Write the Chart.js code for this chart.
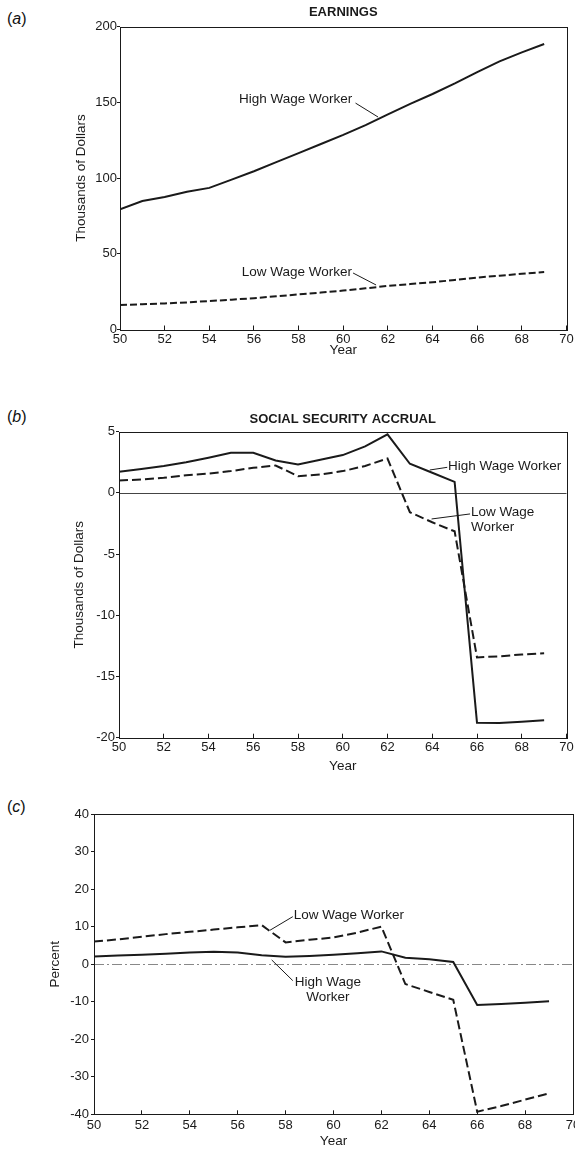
<!DOCTYPE html>
<html>
<head>
<meta charset="utf-8">
<script src="https://cdn.jsdelivr.net/npm/chart.js@4.4.1/dist/chart.umd.min.js"></script>
<style>
  html, body { margin: 0; padding: 0; background: #fff; overflow: hidden; }
  body { width: 575px; height: 1151px; position: relative; font-family: "Liberation Sans", Arial, sans-serif; }
  .panel { position: absolute; left: 0; width: 575px; }
  .tag { position: absolute; left: 7px; font-size: 16px; line-height: 16px; color: #111; }
</style>
</head>
<body>
<div class="tag" style="top:11px">(<i>a</i>)</div>
<div class="tag" style="top:409px">(<i>b</i>)</div>
<div class="tag" style="top:799px">(<i>c</i>)</div>
<div class="panel" style="top:0;height:362px"><canvas id="earnings"></canvas></div>
<div class="panel" style="top:395px;height:380px"><canvas id="accrual"></canvas></div>
<div class="panel" style="top:790px;height:361px"><canvas id="percent"></canvas></div>
<script>
// ages 50..69, one value per year
var years = [50, 51, 52, 53, 54, 55, 56, 57, 58, 59, 60, 61, 62, 63, 64, 65, 66, 67, 68, 69];

// (a) earnings, thousands of dollars
var earnHigh = [79.3, 84.8, 87.5, 91, 93.5, 99, 104.5, 110.5, 116.5, 122.5, 128.5, 135, 142, 149, 155.5, 162.5, 170, 177, 183, 188.5];
var earnLow = [16.2, 16.7, 17.2, 17.9, 18.8, 19.7, 20.7, 21.9, 23.2, 24.4, 25.7, 27.2, 28.8, 30, 31.2, 32.7, 34.3, 35.5, 36.8, 37.9];

// (b) social security accrual, thousands of dollars
var accHigh = [1.72, 1.95, 2.19, 2.5, 2.87, 3.28, 3.28, 2.65, 2.32, 2.7, 3.09, 3.8, 4.78, 2.38, 1.65, 0.9, -18.77, -18.8, -18.7, -18.58];
var accLow = [1.01, 1.1, 1.23, 1.45, 1.58, 1.78, 2.05, 2.24, 1.37, 1.5, 1.78, 2.2, 2.81, -1.58, -2.4, -3.14, -13.44, -13.35, -13.2, -13.11];

// (c) accrual as percent of earnings
var pctHigh = [2.04, 2.3, 2.5, 2.8, 3.1, 3.3, 3.1, 2.4, 2.0, 2.2, 2.5, 2.9, 3.4, 1.7, 1.3, 0.6, -10.9, -10.6, -10.3, -9.9];
var pctLow = [6.0, 6.6, 7.3, 8.0, 8.6, 9.2, 9.8, 10.4, 5.8, 6.5, 7.1, 8.4, 10.0, -5.3, -7.4, -9.5, -39.3, -37.8, -36.1, -34.4];

var INK = "#1a1a1a";
var FONT = "'Liberation Sans', Arial, sans-serif";

function pairs(xs, ys) {
  return xs.map(function (x, i) { return { x: x, y: ys[i] }; });
}

// zero line, box frame and the hand-placed curve labels
var overlay = {
  id: "overlay",
  beforeDatasetsDraw: function (chart, args, opts) {
    if (!opts.zero) return;
    var ctx = chart.ctx, a = chart.chartArea;
    var y0 = Math.round(chart.scales.y.getPixelForValue(0)) + 0.5;
    ctx.save();
    ctx.strokeStyle = opts.zero.color;
    ctx.lineWidth = 1;
    ctx.setLineDash(opts.zero.dash || []);
    ctx.beginPath();
    ctx.moveTo(a.left, y0);
    ctx.lineTo(a.right, y0);
    ctx.stroke();
    ctx.restore();
  },
  afterDatasetsDraw: function (chart, args, opts) {
    var ctx = chart.ctx, a = chart.chartArea;
    var xs = chart.scales.x, ys = chart.scales.y;
    ctx.save();
    ctx.strokeStyle = INK;
    ctx.lineWidth = 1;
    ctx.strokeRect(Math.round(a.left) + 0.5, Math.round(a.top) + 0.5,
      Math.round(a.right - a.left), Math.round(a.bottom - a.top));

    ctx.fillStyle = INK;
    ctx.font = "13.5px " + FONT;
    ctx.textBaseline = "middle";
    (opts.notes || []).forEach(function (n) {
      var px = xs.getPixelForValue(n.x), py = ys.getPixelForValue(n.y);
      ctx.textAlign = n.align || "left";
      n.lines.forEach(function (t, i) { ctx.fillText(t, px, py + i * 15); });
      ctx.beginPath();
      ctx.moveTo(xs.getPixelForValue(n.lead[0][0]), ys.getPixelForValue(n.lead[0][1]));
      ctx.lineTo(xs.getPixelForValue(n.lead[1][0]), ys.getPixelForValue(n.lead[1][1]));
      ctx.stroke();
    });
    ctx.restore();
  }
};

function panel(id, o) {
  return new Chart(document.getElementById(id), {
    type: "line",
    data: {
      datasets: [
        { data: pairs(years, o.high), borderColor: INK, borderWidth: 2, pointRadius: 0, tension: 0 },
        { data: pairs(years, o.low), borderColor: INK, borderWidth: 2, borderDash: o.dash, pointRadius: 0, tension: 0 }
      ]
    },
    plugins: [overlay],
    options: {
      responsive: true,
      maintainAspectRatio: false,
      animation: false,
      events: [],
      layout: { padding: { top: o.padTop, right: o.padRight, left: 0, bottom: 0 } },
      plugins: {
        legend: { display: false },
        tooltip: { enabled: false },
        title: {
          display: !!o.title,
          text: o.title || "",
          fullSize: false,
          color: INK,
          font: { family: FONT, size: 13, weight: "bold" },
          padding: o.titlePad || 0
        },
        overlay: { zero: o.zero, notes: o.notes }
      },
      scales: {
        x: {
          type: "linear",
          min: 50,
          max: 70,
          afterFit: function (s) { s.height = o.xH; s.paddingLeft = 0; s.paddingRight = 0; },
          ticks: { stepSize: 2, autoSkip: false, maxRotation: 0, color: INK, padding: o.xPad,
                   font: { family: FONT, size: 13 } },
          grid: { drawOnChartArea: false, tickLength: -4, tickColor: INK },
          border: { display: false },
          title: { display: true, text: "Year", color: INK, font: { family: FONT, size: 13.5 },
                   padding: { top: 0, bottom: o.yearPad } }
        },
        y: {
          min: o.yMin,
          max: o.yMax,
          afterFit: function (s) { s.width = o.yW; },
          ticks: { stepSize: o.yStep, color: INK, padding: o.yPad, font: { family: FONT, size: 13 } },
          grid: { drawOnChartArea: false, tickLength: 3, tickColor: INK },
          border: { display: false },
          title: { display: true, text: o.yTitle, color: INK, font: { family: FONT, size: 13.5 },
                   padding: { top: o.yTitlePad, bottom: 0 } }
        }
      }
    }
  });
}

panel("earnings", {
  high: earnHigh, low: earnLow, dash: [7, 3],
  title: "EARNINGS", titlePad: { top: 5, bottom: 6 },
  padTop: 0, padRight: 8.5, xH: 32.5, xPad: 5.7, yearPad: 3.9,
  yMin: 0, yMax: 200, yStep: 50, yW: 120, yPad: 0,
  yTitle: "Thousands of Dollars", yTitlePad: 73.4,
  notes: [
    { lines: ["High Wage Worker"], x: 55.33, y: 152.1, lead: [[60.55, 149.5], [61.56, 140.3]] },
    { lines: ["Low Wage Worker"], x: 55.45, y: 37.95, lead: [[60.44, 37.3], [61.47, 29.4]] }
  ]
});

panel("accrual", {
  high: accHigh, low: accLow, dash: [9, 4],
  title: "SOCIAL SECURITY ACCRUAL", titlePad: { top: 16.2, bottom: 4.9 },
  padTop: 0, padRight: 8.5, xH: 37.3, xPad: 6.3, yearPad: 0.9,
  yMin: -20, yMax: 5, yStep: 5, yW: 119, yPad: 1,
  yTitle: "Thousands of Dollars", yTitlePad: 70.9,
  zero: { color: "#444", dash: [] },
  notes: [
    { lines: ["High Wage Worker"], x: 64.70, y: 2.2, lead: [[64.67, 2.09], [63.89, 1.87]] },
    { lines: ["Low Wage", "Worker"], x: 65.73, y: -1.62, lead: [[65.69, -1.72], [63.97, -2.13]] }
  ]
});

panel("percent", {
  high: pctHigh, low: pctLow, dash: [9, 4],
  padTop: 24, padRight: 2, xH: 36.7, xPad: 6.9, yearPad: 1.2,
  yMin: -40, yMax: 40, yStep: 10, yW: 94, yPad: 2,
  yTitle: "Percent", yTitlePad: 46.9,
  zero: { color: "#888", dash: [10, 3, 2, 3] },
  notes: [
    { lines: ["Low Wage Worker"], x: 58.34, y: 12.92, lead: [[58.30, 12.65], [57.35, 9.04]] },
    { lines: ["High Wage", "Worker"], x: 59.77, y: -4.93, align: "center", lead: [[58.30, -4.39], [57.42, 1.12]] }
  ]
});
</script>
</body>
</html>
